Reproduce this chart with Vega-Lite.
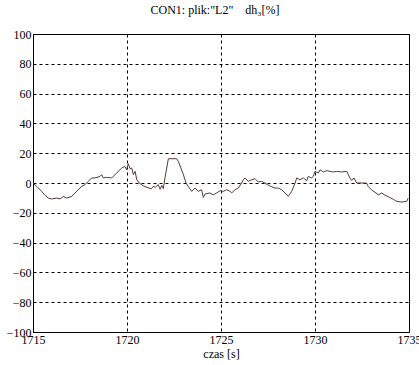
{
  "$schema": "https://vega.github.io/schema/vega-lite/v6.json",
  "width": 376,
  "height": 298,
  "autosize": "none",
  "padding": {"left": 33, "top": 34, "right": 10, "bottom": 33},
  "background": "white",
  "config": {
    "view": {"stroke": "black", "strokeWidth": 1},
    "font": "Liberation Serif",
    "axis": {
      "domainColor": "black",
      "domainWidth": 1,
      "gridColor": "black",
      "gridOpacity": 1,
      "gridDash": [3, 3],
      "gridWidth": 1,
      "ticks": false,
      "labelFont": "Liberation Serif",
      "labelFontSize": 12,
      "labelColor": "black",
      "titleFont": "Liberation Serif",
      "titleFontSize": 12,
      "titleFontWeight": "normal",
      "titleColor": "black"
    }
  },
  "title": {
    "text": "CON1: plik:\"L2\"\u00a0\u00a0\u00a0\u00a0dh₃[%]",
    "font": "Liberation Serif",
    "fontSize": 12,
    "fontWeight": "normal",
    "color": "black",
    "offset": 11,
    "dx": -6
  },
  "data": {
    "values": [
      {"t": 1715.00, "v": 0},
      {"t": 1715.20, "v": -2.3},
      {"t": 1715.46, "v": -5.6},
      {"t": 1715.64, "v": -8.3},
      {"t": 1715.81, "v": -10.1},
      {"t": 1715.99, "v": -10.7},
      {"t": 1716.26, "v": -10.1},
      {"t": 1716.44, "v": -10.7},
      {"t": 1716.61, "v": -9.0},
      {"t": 1716.79, "v": -10.1},
      {"t": 1717.06, "v": -9.0},
      {"t": 1717.32, "v": -5.6},
      {"t": 1717.59, "v": -2.3},
      {"t": 1717.77, "v": -1.1},
      {"t": 1717.94, "v": 1.1},
      {"t": 1718.12, "v": 3.4},
      {"t": 1718.30, "v": 3.4},
      {"t": 1718.56, "v": 4.4},
      {"t": 1718.65, "v": 5.6},
      {"t": 1718.74, "v": 3.4},
      {"t": 1718.92, "v": 3.8},
      {"t": 1719.19, "v": 3.4},
      {"t": 1719.45, "v": 6.7},
      {"t": 1719.72, "v": 10.1},
      {"t": 1719.89, "v": 11.1},
      {"t": 1719.98, "v": 8.9},
      {"t": 1720.07, "v": 13.0},
      {"t": 1720.16, "v": 9.6},
      {"t": 1720.25, "v": 10.1},
      {"t": 1720.34, "v": 5.6},
      {"t": 1720.43, "v": 7.8},
      {"t": 1720.52, "v": 2.2},
      {"t": 1720.65, "v": 0},
      {"t": 1720.85, "v": -1.8},
      {"t": 1721.12, "v": -3.2},
      {"t": 1721.30, "v": -3.8},
      {"t": 1721.39, "v": -2.3},
      {"t": 1721.51, "v": -2.8},
      {"t": 1721.66, "v": -1.1},
      {"t": 1721.76, "v": -4.2},
      {"t": 1721.85, "v": -1.6},
      {"t": 1721.93, "v": -3.8},
      {"t": 1722.02, "v": 3.4},
      {"t": 1722.20, "v": 16.3},
      {"t": 1722.64, "v": 16.3},
      {"t": 1722.73, "v": 14.5},
      {"t": 1723.00, "v": 5.6},
      {"t": 1723.14, "v": 0},
      {"t": 1723.26, "v": -2.3},
      {"t": 1723.44, "v": -5.6},
      {"t": 1723.62, "v": -3.4},
      {"t": 1723.79, "v": -5.6},
      {"t": 1723.97, "v": -4.5},
      {"t": 1724.06, "v": -9.7},
      {"t": 1724.15, "v": -7.4},
      {"t": 1724.41, "v": -6.7},
      {"t": 1724.59, "v": -7.9},
      {"t": 1724.77, "v": -6.7},
      {"t": 1724.95, "v": -5.2},
      {"t": 1725.12, "v": -5.6},
      {"t": 1725.30, "v": -4.5},
      {"t": 1725.48, "v": -5.6},
      {"t": 1725.57, "v": -6.7},
      {"t": 1725.74, "v": -4.5},
      {"t": 1725.92, "v": -3.4},
      {"t": 1726.10, "v": 0},
      {"t": 1726.19, "v": 2.2},
      {"t": 1726.28, "v": 3.4},
      {"t": 1726.45, "v": 1.1},
      {"t": 1726.63, "v": 2.2},
      {"t": 1726.81, "v": 2.9},
      {"t": 1726.98, "v": 0.7},
      {"t": 1727.16, "v": 1.1},
      {"t": 1727.34, "v": 0},
      {"t": 1727.52, "v": -1.5},
      {"t": 1727.70, "v": -2.5},
      {"t": 1727.87, "v": -3.4},
      {"t": 1728.05, "v": -3.4},
      {"t": 1728.23, "v": -4.5},
      {"t": 1728.40, "v": -6.7},
      {"t": 1728.58, "v": -9.0},
      {"t": 1728.76, "v": -5.6},
      {"t": 1728.94, "v": 0},
      {"t": 1729.03, "v": 3.4},
      {"t": 1729.20, "v": 2.2},
      {"t": 1729.38, "v": 3.4},
      {"t": 1729.56, "v": 1.5},
      {"t": 1729.64, "v": 4.4},
      {"t": 1729.82, "v": 3.4},
      {"t": 1729.91, "v": 4.4},
      {"t": 1730.00, "v": 7.8},
      {"t": 1730.18, "v": 6.7},
      {"t": 1730.27, "v": 8.9},
      {"t": 1730.44, "v": 7.4},
      {"t": 1730.62, "v": 8.3},
      {"t": 1730.80, "v": 7.8},
      {"t": 1730.97, "v": 7.4},
      {"t": 1731.15, "v": 7.8},
      {"t": 1731.42, "v": 7.4},
      {"t": 1731.69, "v": 7.8},
      {"t": 1731.77, "v": 5.6},
      {"t": 1731.86, "v": 3.4},
      {"t": 1731.95, "v": 1.7},
      {"t": 1732.07, "v": 3.4},
      {"t": 1732.22, "v": 0},
      {"t": 1732.48, "v": 0},
      {"t": 1732.74, "v": 0},
      {"t": 1732.83, "v": -2.3},
      {"t": 1733.02, "v": -4.8},
      {"t": 1733.19, "v": -6.2},
      {"t": 1733.37, "v": -7.9},
      {"t": 1733.55, "v": -6.7},
      {"t": 1733.72, "v": -8.2},
      {"t": 1733.90, "v": -9.2},
      {"t": 1734.16, "v": -10.9},
      {"t": 1734.34, "v": -12.3},
      {"t": 1734.61, "v": -12.8},
      {"t": 1734.88, "v": -12.3},
      {"t": 1734.96, "v": -10.1}
    ]
  },
  "mark": {"type": "line", "color": "#5a3838", "strokeWidth": 1, "clip": true},
  "encoding": {
    "x": {
      "field": "t",
      "type": "quantitative",
      "scale": {"domain": [1715, 1735], "nice": false, "zero": false},
      "axis": {
        "values": [1715, 1720, 1725, 1730, 1735],
        "format": "d",
        "title": "czas [s]",
        "labelPadding": 2,
        "titlePadding": 3,
        "labelFlush": false,
        "labelOverlap": false
      }
    },
    "y": {
      "field": "v",
      "type": "quantitative",
      "scale": {"domain": [-100, 100], "nice": false},
      "axis": {
        "values": [-100, -80, -60, -40, -20, 0, 20, 40, 60, 80, 100],
        "title": null,
        "labelPadding": 2,
        "labelFlush": false,
        "labelOverlap": false
      }
    }
  }
}
